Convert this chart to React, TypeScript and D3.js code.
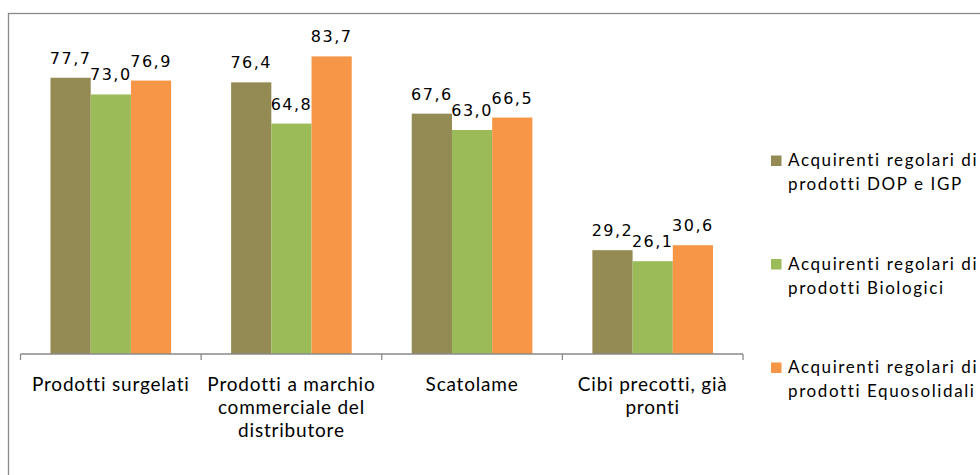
import React from "react";
import * as d3 from "d3";

// Categories of products and how each is wrapped on the axis
const categories = [
  "Prodotti surgelati",
  "Prodotti a marchio commerciale del distributore",
  "Scatolame",
  "Cibi precotti, già pronti",
];
const categoryLines = [
  ["Prodotti surgelati"],
  ["Prodotti a marchio", "commerciale del", "distributore"],
  ["Scatolame"],
  ["Cibi precotti, già", "pronti"],
];

// Series (regular buyers) and their legend lines
const seriesKeys = ["dop", "bio", "equo"];
const seriesLegend = [
  ["Acquirenti regolari di", "prodotti DOP e IGP"],
  ["Acquirenti regolari di", "prodotti Biologici"],
  ["Acquirenti regolari di", "prodotti Equosolidali"],
];
const seriesColors = ["#948A54", "#9BBB59", "#F79646"];

// Percentages per category for each series
const dopValues = [77.7, 76.4, 67.6, 29.2];
const bioValues = [73.0, 64.8, 63.0, 26.1];
const equoValues = [76.9, 83.7, 66.5, 30.6];
const seriesValues = [dopValues, bioValues, equoValues];

const W = 980;
const H = 475;
const plotLeft = 20.5;
const plotRight = 743;
const axisY = 354;
const yMax = 90;
const yTop = 34;

const itFormat = d3.formatLocale({
  decimal: ",",
  thousands: ".",
  grouping: [3],
  currency: ["", "€"],
}).format(".1f");

export default function App() {
  const x0 = d3.scaleBand<string>().domain(categories).range([plotLeft, plotRight]).padding(0);
  const x1 = d3
    .scaleBand<string>()
    .domain(seriesKeys)
    .range([30, x0.bandwidth() - 30])
    .padding(0);
  const y = d3.scaleLinear().domain([0, yMax]).range([axisY, yTop]);

  const tickXs = [...categories.map((c) => x0(c)!), plotRight];

  return (
    <svg
      width={W}
      height={H}
      style={{ position: "absolute", left: 0, top: 0, background: "#fff" }}
    >
      {/* chart frame */}
      <rect x={8.5} y={13.5} width={1000} height={500} fill="#fff" stroke="#8a8a8a" strokeWidth={1.3} />

      {/* bars */}
      {categories.map((c, ci) => (
        <g key={c} transform={`translate(${x0(c)},0)`}>
          {seriesKeys.map((k, si) => {
            const v = seriesValues[si][ci];
            return (
              <rect
                key={k}
                x={x1(k)}
                y={y(v)}
                width={x1.bandwidth()}
                height={axisY - y(v)}
                fill={seriesColors[si]}
              />
            );
          })}
        </g>
      ))}

      {/* value labels */}
      {categories.map((c, ci) =>
        seriesKeys.map((k, si) => {
          const v = seriesValues[si][ci];
          return (
            <text
              key={c + k}
              x={x0(c)! + x1(k)! + x1.bandwidth() / 2}
              y={y(v) - 14}
              textAnchor="middle"
              fontFamily="DejaVu Sans"
              fontSize={16}
              letterSpacing={1.5}
              fill="#000"
            >
              {itFormat(v)}
            </text>
          );
        })
      )}

      {/* category axis */}
      <line x1={plotLeft} x2={plotRight} y1={axisY} y2={axisY} stroke="#8a8a8a" strokeWidth={1.3} />
      {tickXs.map((tx, i) => (
        <line key={i} x1={tx} x2={tx} y1={axisY} y2={axisY + 6} stroke="#8a8a8a" strokeWidth={1.3} />
      ))}
      {categories.map((c, ci) => (
        <text
          key={c}
          x={x0(c)! + x0.bandwidth() / 2}
          textAnchor="middle"
          fontFamily="Lato"
          fontSize={19}
          letterSpacing={0.8}
          fill="#000"
        >
          {categoryLines[ci].map((line, li) => (
            <tspan key={li} x={x0(c)! + x0.bandwidth() / 2} y={391 + li * 23}>
              {line}
            </tspan>
          ))}
        </text>
      ))}

      {/* legend */}
      {seriesKeys.map((k, si) => {
        const base = 166 + si * 103.5;
        return (
          <g key={k}>
            <rect x={771} y={base - 10.5} width={10.5} height={10.5} fill={seriesColors[si]} />
            <text fontFamily="Lato" fontSize={17} letterSpacing={1.6} fill="#000">
              {seriesLegend[si].map((line, li) => (
                <tspan key={li} x={788} y={base + li * 24}>
                  {line}
                </tspan>
              ))}
            </text>
          </g>
        );
      })}
    </svg>
  );
}
